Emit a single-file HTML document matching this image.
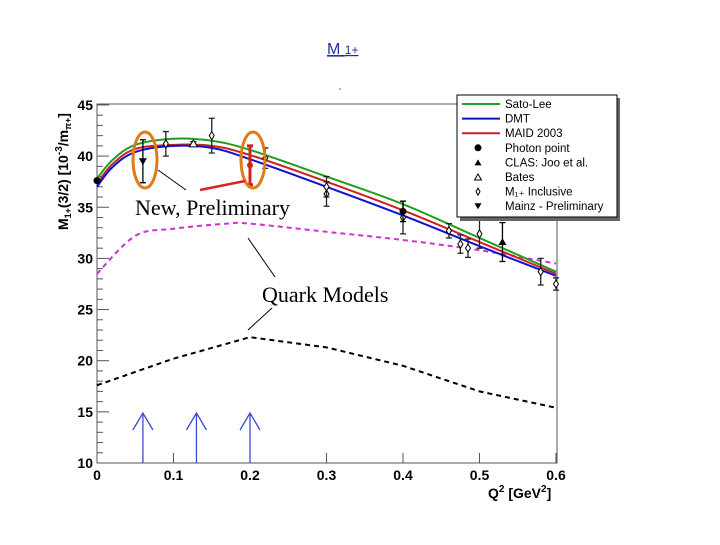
<!DOCTYPE html>
<html><head><meta charset="utf-8"><style>
body{margin:0;background:#fff;width:720px;height:540px;overflow:hidden}
text{font-family:"Liberation Sans",sans-serif}
</style></head><body>
<svg id="c" width="720" height="540" xmlns="http://www.w3.org/2000/svg">
<text x="327" y="54" font-size="16" fill="#1f2f9f" text-decoration="underline">M <tspan font-size="12">1+</tspan></text>
<circle cx="340" cy="89" r="0.8" fill="#555"/>
<rect x="97" y="104" width="460" height="359" fill="none" stroke="#555" stroke-width="1"/>
<g id="axes"></g><g id="curves"></g><g id="pts"></g>
<g>
<ellipse cx="145" cy="160" rx="12" ry="28" fill="none" stroke="#e07a1a" stroke-width="3"/>
<ellipse cx="253" cy="160" rx="12" ry="28" fill="none" stroke="#e07a1a" stroke-width="3"/>
<line x1="158" y1="170" x2="186" y2="190" stroke="#000"/>
<line x1="200" y1="190" x2="245" y2="181" stroke="#d22" stroke-width="2.5"/>
<text x="135" y="215" font-size="22" style="font-family:'Liberation Serif',serif">New, Preliminary</text>
<text x="262" y="302" font-size="22" style="font-family:'Liberation Serif',serif">Quark Models</text>
<line x1="275" y1="277" x2="248" y2="238" stroke="#000"/>
<line x1="272" y1="308" x2="248" y2="330" stroke="#000"/>
</g>
<g id="legend">
<rect x="460" y="98" width="160" height="123" fill="#666"/>
<rect x="457" y="95" width="160" height="122" fill="#fff" stroke="#000"/>
</g>
</svg>
<script>
const NS="http://www.w3.org/2000/svg";
const xTicks=[0,0.1,0.2,0.3,0.4,0.5,0.6];
const yTicks=[10,15,20,25,30,35,40,45];
const curveX=[0,0.02,0.05,0.1,0.15,0.2,0.3,0.4,0.5,0.6];
const satoLee=[37.8,39.6,41.1,41.7,41.5,40.6,38.0,35.3,32.0,28.7];
const dmt=[37.0,38.9,40.4,41.0,40.8,39.7,37.0,34.2,31.2,28.3];
const maid=[37.3,39.2,40.7,41.1,41.0,40.1,37.5,34.7,31.6,28.5];
const qmX=[0,0.05,0.1,0.17,0.2,0.3,0.4,0.5,0.6];
const qmPink=[28.5,32.2,32.9,33.4,33.4,32.6,31.8,30.8,29.5];
const qmX2=[0,0.1,0.2,0.3,0.4,0.5,0.6];
const qmBlack=[17.6,20.2,22.3,21.3,19.5,17.0,15.4];
const photonX=[0,0.4],photonY=[37.6,34.6],photonE=[0,1];
const clasX=[0.53],clasY=[31.6],clasE=[1.9];
const batesX=[0.126],batesY=[41.2],batesE=[0.2];
const inclX=[0.09,0.15,0.22,0.3,0.3,0.4,0.46,0.475,0.485,0.5,0.58,0.6];
const inclY=[41.2,42.0,39.8,36.3,37.0,34.0,32.7,31.4,31.0,32.4,28.7,27.5];
const inclE=[1.2,1.7,1.0,1.2,1.0,1.6,0.7,0.9,0.9,1.4,1.3,0.6];
const mainzX=[0.06],mainzY=[39.5],mainzE=[2.1];
const redX=[0.2],redY=[39.1],redE=[1.9];
const arrowX=[0.06,0.13,0.2];
const X=v=>97+v*765, Y=v=>463-(v-10)*10.23;
function el(t,a,p){const e=document.createElementNS(NS,t);for(const k in a)e.setAttribute(k,a[k]);document.getElementById(p).appendChild(e);return e;}
xTicks.forEach(t=>{const l=el('line',{x1:X(t),x2:X(t),y1:463,y2:453,stroke:'#555'},'axes');

const s=el('text',{x:X(t),y:480,'font-size':14,'font-weight':'bold','text-anchor':'middle'},'axes');s.textContent=t;
});
yTicks.forEach(t=>{const l=el('line',{x1:97,x2:109,y1:Y(t),y2:Y(t),stroke:'#555'},'axes');

const s=el('text',{x:93,y:Y(t)+5,'font-size':14,'font-weight':'bold','text-anchor':'end'},'axes');s.textContent=t;
});
for(let v=11;v<45;v++){if(v%5)el('line',{x1:97,x2:103,y1:Y(v),y2:Y(v),stroke:'#555'},'axes');}
let xt=el('text',{x:488,y:498,'font-size':14,'font-weight':'bold'},'axes');xt.innerHTML='Q<tspan dy="-6" font-size="10">2</tspan><tspan dy="6"> [GeV</tspan><tspan dy="-6" font-size="10">2</tspan><tspan dy="6">]</tspan>';

let yt=el('text',{x:0,y:0,'font-size':14,'font-weight':'bold',transform:'translate(68,230) rotate(-90)'},'axes');yt.innerHTML='M<tspan font-size="9" dy="3">1+</tspan><tspan dy="-3">(3/2) [10</tspan><tspan dy="-6" font-size="10">-3</tspan><tspan dy="6">/m</tspan><tspan font-size="9" dy="3">π+</tspan><tspan dy="-3">]</tspan>';

function smooth(P){let d='M'+P[0][0]+' '+P[0][1];for(let i=0;i<P.length-1;i++){const p0=P[i-1]||P[i],p1=P[i],p2=P[i+1],p3=P[i+2]||p2;
d+=`C${p1[0]+(p2[0]-p0[0])/6} ${p1[1]+(p2[1]-p0[1])/6} ${p2[0]-(p3[0]-p1[0])/6} ${p2[1]-(p3[1]-p1[1])/6} ${p2[0]} ${p2[1]}`;}return d;}
function curve(xs,ys,col,w,dash,name,sm){const P=xs.map((x,i)=>[X(x),Y(ys[i])]);
const p=el('path',{d:sm?smooth(P):P.map((q,i)=>(i?'L':'M')+q[0]+' '+q[1]).join(''),fill:'none',stroke:col,'stroke-width':w,'stroke-dasharray':dash||'none'},'curves');
}
curve(qmX,qmPink,'#d030d0',2,'5,4','quark-model-pink',true);
curve(qmX2,qmBlack,'#000',2,'5,4','quark-model-black',false);
curve(curveX,satoLee,'#20a020',2,'','sato-lee-curve',true);
curve(curveX,maid,'#d02020',2,'','maid-curve',true);
curve(curveX,dmt,'#1010d0',2,'','dmt-curve',true);
arrowX.forEach(a=>{const g=el('path',{d:`M${X(a)} 463V413M${X(a)-10} 430L${X(a)} 413L${X(a)+10} 430`,stroke:'#3a4ad0','stroke-width':1.3,fill:'none'},'pts');
});
function pts(xs,ys,es,shape,col,name){xs.forEach((x,i)=>{const cx=X(x),cy=Y(ys[i]);
if(es[i]>0){const e=el('path',{d:`M${cx} ${Y(ys[i]+es[i])}V${Y(ys[i]-es[i])}M${cx-3} ${Y(ys[i]+es[i])}h6M${cx-3} ${Y(ys[i]-es[i])}h6`,stroke:col,'stroke-width':col=='#d02020'?3:1.3},'pts');}
let m;
if(shape=='c')m=el('circle',{cx,cy,r:3.5,fill:'#000'},'pts');
else if(shape=='t')m=el('path',{d:`M${cx-4} ${cy+3}L${cx} ${cy-4}L${cx+4} ${cy+3}Z`,fill:'#000'},'pts');
else if(shape=='o')m=el('path',{d:`M${cx-4} ${cy+3}L${cx} ${cy-4}L${cx+4} ${cy+3}Z`,fill:'#fff',stroke:'#000'},'pts');
else if(shape=='d')m=el('path',{d:`M${cx} ${cy-4}L${cx+2.5} ${cy}L${cx} ${cy+4}L${cx-2.5} ${cy}Z`,fill:'#fff',stroke:'#000'},'pts');
else if(shape=='v')m=el('path',{d:`M${cx-4} ${cy-3}L${cx} ${cy+4}L${cx+4} ${cy-3}Z`,fill:'#000'},'pts');
else m=el('circle',{cx,cy,r:3,fill:col},'pts');
});}
pts(inclX,inclY,inclE,'d','#222','inclusive-point');
pts(photonX,photonY,photonE,'c','#000','photon-point');
pts(clasX,clasY,clasE,'t','#000','clas-point');
pts(batesX,batesY,batesE,'o','#000','bates-point');
pts(mainzX,mainzY,mainzE,'v','#000','mainz-point');
pts(redX,redY,redE,'r','#d02020','new-red-point');
const legNames=['Sato-Lee','DMT','MAID 2003','Photon point','CLAS: Joo et al.','Bates','M₁₊ Inclusive','Mainz - Preliminary'];
legNames.forEach((n,i)=>{const y=104+i*14.6;const t=el('text',{x:505,y:y+4,'font-size':11.5},'legend');t.textContent=n;

const c=['#20a020','#1010d0','#d02020'][i];
if(c)el('line',{x1:462,x2:500,y1:y,y2:y,stroke:c,'stroke-width':2},'legend');
else{const cx=478,cy=y;const d={3:`<circle cx="${cx}" cy="${cy}" r="3.5"/>`,4:`<path d="M${cx-3.5} ${cy+3}L${cx} ${cy-3}L${cx+3.5} ${cy+3}Z"/>`,5:`<path d="M${cx-3.5} ${cy+3}L${cx} ${cy-3}L${cx+3.5} ${cy+3}Z" fill="#fff" stroke="#000"/>`,6:`<path d="M${cx} ${cy-3.5}L${cx+2} ${cy}L${cx} ${cy+3.5}L${cx-2} ${cy}Z" fill="#fff" stroke="#000"/>`,7:`<path d="M${cx-3.5} ${cy-3}L${cx} ${cy+3}L${cx+3.5} ${cy-3}Z"/>`}[i];
document.getElementById('legend').insertAdjacentHTML('beforeend',d);}});
</script>
</body></html>
